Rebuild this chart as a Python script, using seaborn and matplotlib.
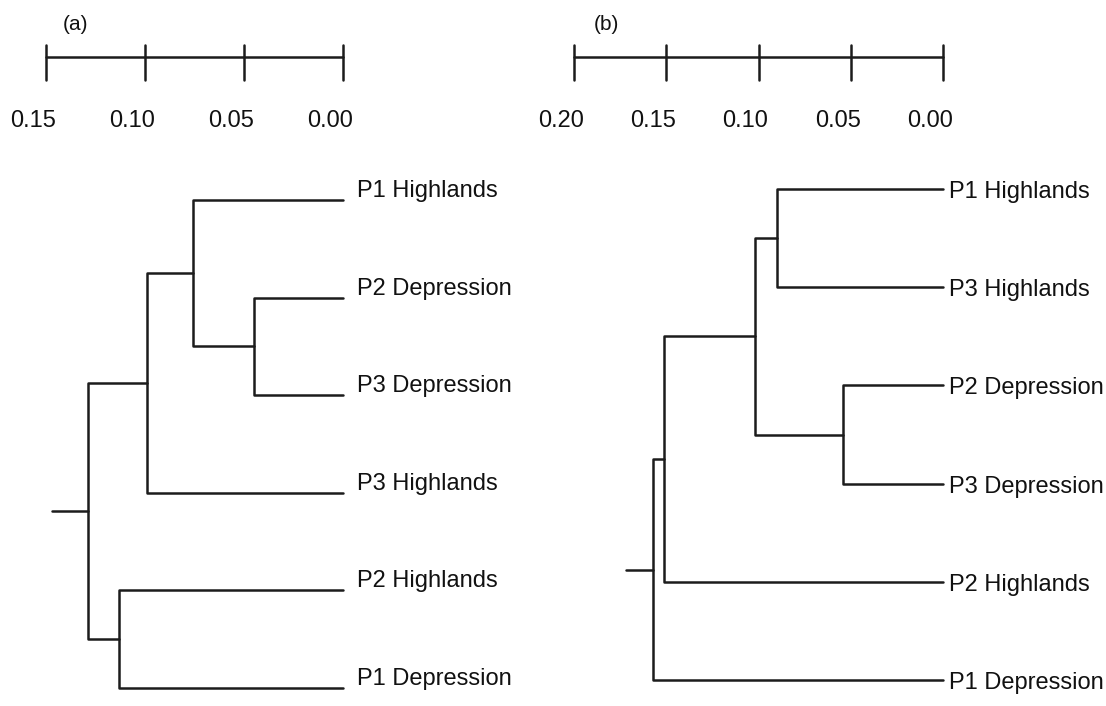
import numpy as np
import pandas as pd
import matplotlib
matplotlib.use("Agg")
import matplotlib.pyplot as plt
import matplotlib.transforms as mtransforms
import seaborn as sns

# Дендрограмма (a)
leaves_a = ["P1 Highlands", "P2 Depression", "P3 Depression",
            "P3 Highlands", "P2 Highlands", "P1 Depression"]
# слияния: (левый узел, правый узел, высота); новые узлы нумеруются с 6
merges_a = [(1, 2, 0.045), (0, 6, 0.076), (7, 3, 0.099), (4, 5, 0.113), (8, 9, 0.129)]
root_a = 0.147
ticks_a = [0.15, 0.10, 0.05, 0.00]

# Дендрограмма (b)
leaves_b = ["P1 Highlands", "P3 Highlands", "P2 Depression",
            "P3 Depression", "P2 Highlands", "P1 Depression"]
merges_b = [(0, 1, 0.090), (2, 3, 0.054), (6, 7, 0.102), (8, 4, 0.151), (9, 5, 0.157)]
root_b = 0.172
ticks_b = [0.20, 0.15, 0.10, 0.05, 0.00]

W, H = 1106, 706
LINE = "#1c1c1c"

sns.set_style("white")
plt.rcParams["font.family"] = ["Liberation Sans", "DejaVu Sans"]


def tree_segments(leaves, merges, root):
    # координаты узлов: листья на высоте 0, узел посередине между потомками
    pos = {i: (0.0, float(i)) for i in range(len(leaves))}
    rows = []
    for k, (a, b, h) in enumerate(merges):
        (ha, ya), (hb, yb) = pos[a], pos[b]
        for x, y in [(ha, ya), (h, ya), (h, yb), (hb, yb)]:
            rows.append({"x": x, "y": y, "seg": k})
        pos[len(leaves) + k] = (h, (ya + yb) / 2)
    h_top, y_top = pos[len(leaves) + len(merges) - 1]
    rows.append({"x": h_top, "y": y_top, "seg": len(merges)})
    rows.append({"x": root, "y": y_top, "seg": len(merges)})
    return pd.DataFrame(rows)


fig = plt.figure(figsize=(W / 100, H / 100), dpi=100)
fig.patch.set_facecolor("white")

panels = [
    # буква, листья, слияния, корень, шкала, пиксельная привязка
    dict(tag="(a)", leaves=leaves_a, merges=merges_a, root=root_a, ticks=ticks_a,
         left=0, right=553, x0=343, ppu=1980, y0=200, ppl=97.6,
         tag_x=75, lab_dx=14, lab_dy=3),
    dict(tag="(b)", leaves=leaves_b, merges=merges_b, root=root_b, ticks=ticks_b,
         left=553, right=1106, x0=943, ppu=1845, y0=189, ppl=98.2,
         tag_x=606, lab_dx=6, lab_dy=-9),
]

for p in panels:
    ax = fig.add_axes([p["left"] / W, 0, (p["right"] - p["left"]) / W, 1])
    segs = tree_segments(p["leaves"], p["merges"], p["root"])
    sns.lineplot(data=segs, x="x", y="y", units="seg", estimator=None, sort=False,
                 color=LINE, linewidth=1.8, ax=ax)

    ax.set_xlim((p["x0"] - p["left"]) / p["ppu"], -(p["right"] - p["x0"]) / p["ppu"])
    ax.set_ylim((H - p["y0"]) / p["ppl"], -p["y0"] / p["ppl"])
    ax.axis("off")

    # подписи листьев
    lab_tr = mtransforms.offset_copy(ax.transData, fig=fig, x=p["lab_dx"], y=p["lab_dy"], units="dots")
    for i, name in enumerate(p["leaves"]):
        ax.text(0, i, name, transform=lab_tr, ha="left", va="baseline",
                fontsize=17, color="#111111")

    # масштабная линейка
    bar_tr = mtransforms.blended_transform_factory(ax.transData, fig.transFigure)
    ax.plot([max(p["ticks"]), min(p["ticks"])], [1 - 57 / H] * 2,
            color=LINE, linewidth=1.8, transform=bar_tr, clip_on=False)
    for t in p["ticks"]:
        ax.plot([t, t], [1 - 45 / H, 1 - 80 / H], color=LINE, linewidth=1.8,
                transform=bar_tr, clip_on=False)
    tick_tr = mtransforms.offset_copy(bar_tr, fig=fig, x=-13, y=0, units="dots")
    for t in p["ticks"]:
        ax.text(t, 1 - 121 / H, f"{t:.2f}", transform=tick_tr, ha="center", va="center",
                fontsize=17, color="#111111")

    fig.text(p["tag_x"] / W, 1 - 25 / H, p["tag"], ha="center", va="center",
             fontsize=15, color="#111111")

plt.savefig("out.png", dpi=100, facecolor="white")
